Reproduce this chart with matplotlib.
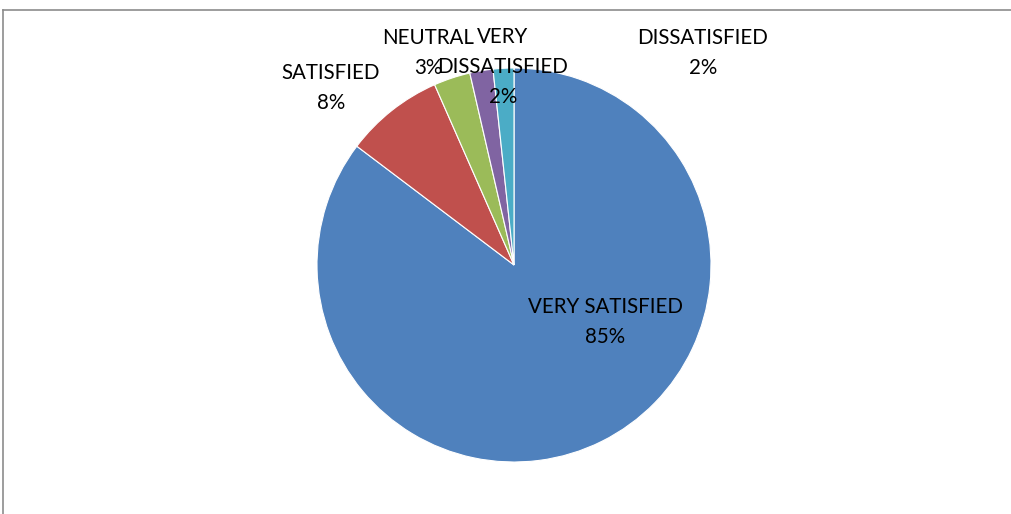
import matplotlib
matplotlib.use("Agg")
import matplotlib.pyplot as plt
from matplotlib.lines import Line2D

# Data (percent of respondents)
categories = ["VERY SATISFIED", "SATISFIED", "NEUTRAL", "VERY\nDISSATISFIED", "DISSATISFIED"]
shares = [85.3, 8.1, 3.0, 1.9, 1.7]
colors = ["#4F81BD", "#C0504D", "#9BBB59", "#8064A2", "#4BACC6"]

# label anchor points, in pie-radius units
label_pos = [(0.462, -0.289), (-0.929, 0.898), (-0.437, 1.076), (-0.056, 1.005), (0.959, 1.076)]

W, H = 1012, 514
cx, cy, r = 514, 265, 197

plt.rcParams['font.family'] = ['Lato', 'DejaVu Sans']
fig = plt.figure(figsize=(W / 100, H / 100), dpi=100)
ax = fig.add_axes([0, 0, 1, 1])

ax.pie(shares, colors=colors, startangle=90, counterclock=False,
       wedgeprops=dict(edgecolor="white", linewidth=0.8))

for cat, val, (x, y) in zip(categories, shares, label_pos):
    ax.text(x, y, f"{cat}\n{round(val):.0f}%", ha="center", va="center",
            fontsize=14.8, color="black", linespacing=1.65)

ax.set_xlim(-cx / r, (W - cx) / r)
ax.set_ylim(-(H - cy) / r, cy / r)
ax.set_aspect("auto")
ax.axis("off")

# chart area border (only top and left visible)
fig.add_artist(Line2D([3.5 / W, 1], [1 - 9.5 / H, 1 - 9.5 / H], color="#8c8c8c", lw=1.2))
fig.add_artist(Line2D([3.5 / W, 3.5 / W], [0, 1 - 9.5 / H], color="#8c8c8c", lw=1.2))

fig.savefig("out.png", dpi=100)
